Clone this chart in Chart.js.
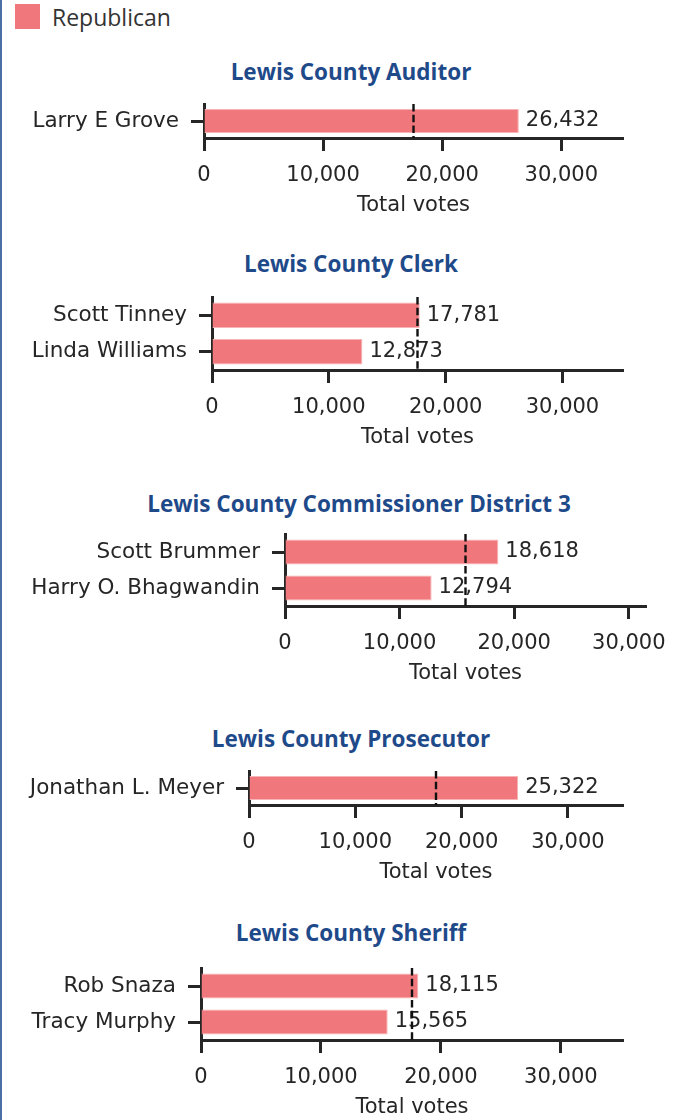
<!DOCTYPE html>
<html lang="en">
<head>
    <meta charset="UTF-8">
    <title>Lewis County races</title>
    <script src="https://cdn.jsdelivr.net/npm/chart.js"></script>
    <style>
        html, body {
            margin: 0;
            padding: 0;
            background: #fff;
        }
        #wrap {
            position: relative;
            width: 679px;
            height: 1120px;
            overflow: hidden;
        }
        .edge {
            position: absolute;
            left: 0;
            top: 0;
            width: 2px;
            height: 1120px;
            background: #4a6fa5;
        }
        .legend-box {
            position: absolute;
            left: 15px;
            top: 4px;
            width: 25px;
            height: 25px;
            background: #f0777b;
        }
        .legend-text {
            position: absolute;
            left: 52px;
            top: 3px;
            font: 23px "Open Sans", Lato, sans-serif;
            color: #333;
            line-height: 28px;
        }
        .race-title {
            position: absolute;
            width: 600px;
            text-align: center;
            font: bold 22.5px "Open Sans", Lato, sans-serif;
            color: #1f4a8a;
            line-height: 28px;
        }
        canvas {
            position: absolute;
            left: 0;
        }
    </style>
</head>
<body>
<div id="wrap">
    <div class="edge"></div>
    <div class="legend-box"></div>
    <div class="legend-text">Republican</div>
</div>
<script>
    // race data
    const raceTitles = [
        'Lewis County Auditor',
        'Lewis County Clerk',
        'Lewis County Commissioner District 3',
        'Lewis County Prosecutor',
        'Lewis County Sheriff'
    ];
    const candidates = [
        ['Larry E Grove'],
        ['Scott Tinney', 'Linda Williams'],
        ['Scott Brummer', 'Harry O. Bhagwandin'],
        ['Jonathan L. Meyer'],
        ['Rob Snaza', 'Tracy Murphy']
    ];
    const votes = [
        [26432],
        [17781, 12873],
        [18618, 12794],
        [25322],
        [18115, 15565]
    ];
    // dashed line (half of ballots) and axis limit per race
    const majorityLine = [17590, 17590, 15750, 17590, 17590];
    const axisMax = [35180, 35180, 31500, 35180, 35180];
    const xTicks = [0, 10000, 20000, 30000];

    const barColor = '#f0777b';
    const inkColor = '#262626';

    // where each small chart sits on the page
    const panelLayout = [
        { titleX: 351, titleY: 73,  top: 104, bottom: 138, left: 204, right: 623 },
        { titleX: 351, titleY: 265, top: 297, bottom: 370, left: 212, right: 623 },
        { titleX: 359, titleY: 505, top: 534, bottom: 606, left: 285, right: 646 },
        { titleX: 351, titleY: 740, top: 771, bottom: 805, left: 249, right: 623 },
        { titleX: 351, titleY: 934, top: 968, bottom: 1040, left: 201, right: 623 }
    ];

    const PAD_TOP = 6;
    const X_AXIS_H = 82;
    const W = 679;
    const tickFont = { family: 'DejaVu Sans', size: 21 };
    const nameFont = { family: 'DejaVu Sans', size: 21.5 };

    // value labels + dashed line
    const annotPlugin = {
        id: 'annot',
        afterDatasetsDraw(chart, args, opts) {
            const ctx = chart.ctx;
            const meta = chart.getDatasetMeta(0);
            const vals = chart.data.datasets[0].data;
            ctx.save();
            ctx.font = '21px "DejaVu Sans"';
            ctx.fillStyle = inkColor;
            ctx.textBaseline = 'middle';
            ctx.textAlign = 'left';
            meta.data.forEach((bar, j) => {
                ctx.fillText(vals[j].toLocaleString('en-US'), bar.x + 7, bar.y);
            });
            const x = chart.scales.x.getPixelForValue(opts.line);
            ctx.setLineDash([7.5, 3.2]);
            ctx.lineWidth = 2.4;
            ctx.strokeStyle = '#111';
            ctx.beginPath();
            ctx.moveTo(x, chart.chartArea.top);
            ctx.lineTo(x, chart.chartArea.bottom);
            ctx.stroke();
            ctx.restore();
        }
    };

    const wrap = document.getElementById('wrap');

    panelLayout.forEach((p, i) => {
        const t = document.createElement('div');
        t.className = 'race-title';
        t.textContent = raceTitles[i];
        t.style.left = (p.titleX - 300) + 'px';
        t.style.top = (p.titleY - 15) + 'px';
        wrap.appendChild(t);

        const c = document.createElement('canvas');
        const h = PAD_TOP + (p.bottom - p.top) + X_AXIS_H;
        c.width = W;
        c.height = h;
        c.style.width = W + 'px';
        c.style.height = h + 'px';
        c.style.top = (p.top - PAD_TOP) + 'px';
        wrap.appendChild(c);

        new Chart(c, {
            type: 'bar',
            data: {
                labels: candidates[i],
                datasets: [{
                    label: 'Republican',
                    data: votes[i],
                    backgroundColor: barColor,
                    borderColor: '#f7b3b5',
                    borderWidth: 1,
                    barPercentage: 0.7,
                    categoryPercentage: 1
                }]
            },
            options: {
                indexAxis: 'y',
                responsive: false,
                animation: false,
                layout: {
                    padding: { top: PAD_TOP, right: W - p.right, left: 0, bottom: 0 }
                },
                plugins: {
                    legend: { display: false },
                    tooltip: { enabled: false },
                    annot: { line: majorityLine[i] }
                },
                scales: {
                    x: {
                        type: 'linear',
                        min: 0,
                        max: axisMax[i],
                        afterBuildTicks: s => { s.ticks = xTicks.map(v => ({ value: v })); },
                        afterFit: s => {
                            s.height = X_AXIS_H;
                            s.paddingLeft = 0;
                            s.paddingRight = 0;
                        },
                        border: { color: inkColor, width: 3 },
                        grid: {
                            drawOnChartArea: false,
                            tickLength: 13,
                            tickWidth: 3,
                            tickColor: inkColor
                        },
                        ticks: {
                            font: tickFont,
                            color: inkColor,
                            padding: 12,
                            maxRotation: 0,
                            callback: v => v.toLocaleString('en-US')
                        },
                        title: {
                            display: true,
                            text: 'Total votes',
                            font: tickFont,
                            color: inkColor,
                            padding: { top: 2, bottom: 2 }
                        }
                    },
                    y: {
                        afterFit: s => {
                            s.width = p.left;
                            s.paddingTop = 0;
                            s.paddingBottom = 0;
                        },
                        border: { color: inkColor, width: 3 },
                        grid: {
                            offset: false,
                            drawOnChartArea: false,
                            tickLength: 13,
                            tickWidth: 3,
                            tickColor: inkColor
                        },
                        ticks: {
                            font: nameFont,
                            color: inkColor,
                            padding: 12
                        }
                    }
                }
            },
            plugins: [annotPlugin]
        });
    });
</script>
</body>
</html>
